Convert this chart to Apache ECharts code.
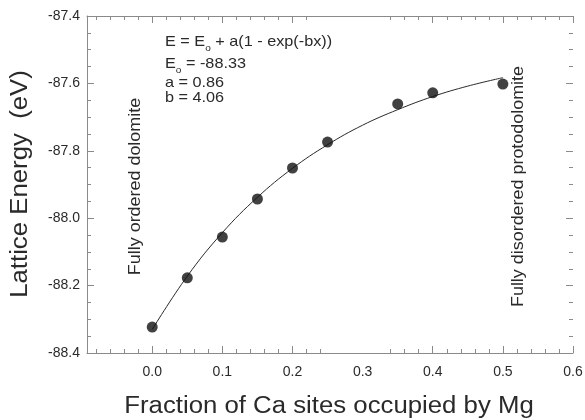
<!DOCTYPE html>
<html>
<head>
<meta charset="utf-8">
<script src="https://cdn.jsdelivr.net/npm/echarts@6/dist/echarts.min.js"></script>
<style>
html,body{margin:0;padding:0;background:#fff;}
#c{width:585px;height:420px;}
</style>
</head>
<body>
<div id="c"></div>
<script>
// ---- data ----
const pointX = [0, 0.05, 0.1, 0.15, 0.2, 0.25, 0.35, 0.4, 0.5];
const pointY = [-88.323, -88.177, -88.056, -87.943, -87.851, -87.774, -87.661, -87.628, -87.602];
const curveX = [0, 0.05, 0.1, 0.15, 0.2, 0.25, 0.3, 0.35, 0.4, 0.45, 0.5];
const curveY = [-88.33, -88.172, -88.043, -87.938, -87.852, -87.782, -87.724, -87.678, -87.639, -87.608, -87.583];

// ticks and labels
const xLabels = [0, 0.1, 0.2, 0.3, 0.4, 0.5, 0.6];
const xMajorTicks = [0, 0.1, 0.2, 0.4, 0.5, 0.6];
const xMinorBottom = [-0.08, -0.06, -0.04, -0.02, 0.02, 0.04, 0.06, 0.08, 0.12, 0.14, 0.16, 0.18, 0.22, 0.24, 0.34, 0.36, 0.38, 0.42, 0.44, 0.46, 0.48, 0.52, 0.54, 0.56, 0.58];
const xMinorTop = [-0.08, -0.06, -0.04, -0.02, 0.02, 0.04, 0.06, 0.08, 0.12, 0.14, 0.16, 0.18, 0.22, 0.34, 0.36, 0.38, 0.42, 0.44, 0.46, 0.48, 0.52, 0.54, 0.56, 0.58];
const yLabels = [-88.4, -88.2, -88.0, -87.8, -87.6, -87.4];
const yMinorTicks = [-88.35, -88.3, -88.25, -88.15, -88.1, -88.05, -87.95, -87.9, -87.85, -87.75, -87.7, -87.65, -87.55, -87.5, -87.45];

const xTitle = 'Fraction of Ca sites occupied by Mg';
const yTitle = 'Lattice Energy  (eV)';
const noteLeft = 'Fully ordered dolomite';
const noteRight = 'Fully disordered protodolomite';
const eqLine1 = ['E = E', 'o', ' + a(1 - exp(-bx))'];
const eqLine2 = ['E', 'o', ' = -88.33'];
const eqLine3 = 'a = 0.86';
const eqLine4 = 'b = 4.06';

const X_MIN = -0.093, X_MAX = 0.6, Y_MIN = -88.4, Y_MAX = -87.4;

// ---- styling ----
const FONT = '"Liberation Sans", Arial, Helvetica, sans-serif';
const AX = '#8a8a8a';
const TXT = '#2a2a2a';
const SX = 1.12;

function xAxisDef(pos, ticks, len, showLine, labels) {
  return {
    type: 'value', gridIndex: 0, position: pos, min: X_MIN, max: X_MAX,
    axisLine: { show: showLine, onZero: false, lineStyle: { color: AX, width: 1 } },
    axisTick: { show: true, inside: true, length: len, customValues: ticks, lineStyle: { color: AX, width: 1 } },
    axisLabel: labels ? {
      show: true, customValues: labels, formatter: v => Number(v).toFixed(1),
      margin: 12, fontSize: 14, color: TXT, fontFamily: FONT
    } : { show: false },
    splitLine: { show: false }, minorTick: { show: false }
  };
}
function yAxisDef(pos, ticks, len, showLine, labels) {
  return {
    type: 'value', gridIndex: 0, position: pos, min: Y_MIN, max: Y_MAX,
    axisLine: { show: showLine, onZero: false, lineStyle: { color: AX, width: 1 } },
    axisTick: { show: true, inside: true, length: len, customValues: ticks, lineStyle: { color: AX, width: 1 } },
    axisLabel: labels ? {
      show: true, customValues: labels, formatter: v => Number(v).toFixed(1),
      margin: 7, fontSize: 14, color: TXT, fontFamily: FONT
    } : { show: false },
    splitLine: { show: false }, minorTick: { show: false }
  };
}

function eqRich(parts) {
  return '{n|' + parts[0] + '}{s|' + parts[1] + '}{n|' + parts[2] + '}';
}
const eqRichStyle = {
  n: { fontSize: 14.5, fontFamily: FONT, lineHeight: 22, verticalAlign: 'middle' },
  s: { fontSize: 9, fontFamily: FONT, lineHeight: 9, verticalAlign: 'bottom' }
};

function txt(x, y, text, size, rot, align, extra) {
  return Object.assign({
    type: 'text', x: x, y: y, rotation: rot || 0, scaleX: SX, scaleY: 1, z: 10,
    style: {
      text: text, fill: TXT, fontSize: size, fontFamily: FONT,
      align: align || 'center', verticalAlign: 'middle',
      textAlign: align || 'center', textVerticalAlign: 'middle'
    }
  }, extra || {});
}

const chart = echarts.init(document.getElementById('c'), null, { renderer: 'canvas' });
chart.setOption({
  backgroundColor: '#ffffff',
  animation: false,
  grid: { left: 87, right: 12, top: 16, bottom: 67, containLabel: false, outerBoundsMode: 'none' },
  xAxis: [
    xAxisDef('bottom', xMajorTicks, 7, true, xLabels),
    xAxisDef('bottom', xMinorBottom, 4, false, null),
    xAxisDef('top', xMajorTicks, 7, true, null),
    xAxisDef('top', xMinorTop, 4, false, null)
  ],
  yAxis: [
    yAxisDef('left', yLabels, 7, true, yLabels),
    yAxisDef('left', yMinorTicks, 4, false, null),
    yAxisDef('right', yLabels, 7, false, null),
    yAxisDef('right', yMinorTicks, 4, false, null)
  ],
  series: [
    {
      type: 'line', xAxisIndex: 0, yAxisIndex: 0,
      data: curveX.map((x, i) => [x, curveY[i]]),
      smooth: 0.4, showSymbol: false, symbol: 'none',
      lineStyle: { color: '#2a2a2a', width: 1 }, z: 2
    },
    {
      type: 'scatter', xAxisIndex: 0, yAxisIndex: 0,
      data: pointX.map((x, i) => [x, pointY[i]]),
      symbol: 'circle', symbolSize: 11,
      itemStyle: { color: '#111111' }, z: 3
    }
  ],
  graphic: [
    txt(329, 407, xTitle, 23, 0, 'center'),
    txt(21, 184, yTitle, 23, Math.PI / 2, 'center'),
    txt(136, 186.5, noteLeft, 16, Math.PI / 2, 'center'),
    txt(518.5, 186.5, noteRight, 16, Math.PI / 2, 'center'),
    {
      type: 'text', x: 165, y: 42, scaleX: SX, z: 10,
      style: { text: eqRich(eqLine1), rich: eqRichStyle, fill: TXT, fontSize: 14.5, fontFamily: FONT,
        align: 'left', verticalAlign: 'middle', textAlign: 'left', textVerticalAlign: 'middle' }
    },
    {
      type: 'text', x: 165, y: 64, scaleX: SX, z: 10,
      style: { text: eqRich(eqLine2), rich: eqRichStyle, fill: TXT, fontSize: 14.5, fontFamily: FONT,
        align: 'left', verticalAlign: 'middle', textAlign: 'left', textVerticalAlign: 'middle' }
    },
    txt(165, 82.5, eqLine3, 14.5, 0, 'left'),
    txt(165, 97.5, eqLine4, 14.5, 0, 'left')
  ]
});
</script>
</body>
</html>
